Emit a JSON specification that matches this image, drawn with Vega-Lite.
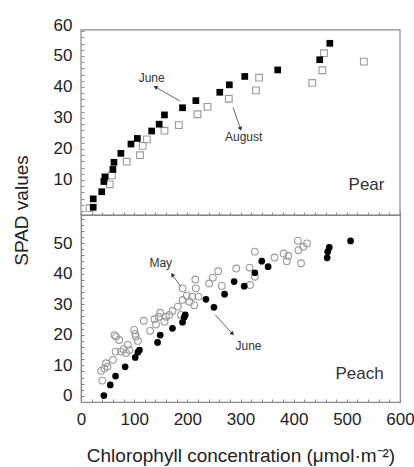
{
  "$schema": "https://vega.github.io/schema/vega-lite/v6.json",
  "padding": {"left": 12, "top": 16, "right": 0, "bottom": 0},
  "spacing": 0,
  "bounds": "flush",
  "config": {
    "font": "Liberation Sans",
    "view": {"stroke": "#888", "strokeWidth": 1.2},
    "axis": {
      "labelFont": "Liberation Sans", "labelFontSize": 17, "labelColor": "#222",
      "titleFont": "Liberation Sans", "titleFontSize": 19, "titleFontWeight": "normal", "titleColor": "#222",
      "domainColor": "#888", "domainWidth": 1.2, "tickColor": "#888", "tickSize": -3, "tickWidth": 1,
      "grid": false, "labelFlush": false, "labelOverlap": false, "labelPadding": 12
    }
  },
  "datasets": {
    "pear": [
      {"month": "June", "chl": 23, "spad": 1.2}, {"month": "June", "chl": 23, "spad": 3.9},
      {"month": "June", "chl": 39, "spad": 6.2}, {"month": "June", "chl": 43, "spad": 9.5},
      {"month": "June", "chl": 45, "spad": 11}, {"month": "June", "chl": 60, "spad": 13.4},
      {"month": "June", "chl": 62, "spad": 15.7}, {"month": "June", "chl": 75, "spad": 18.6},
      {"month": "June", "chl": 94, "spad": 21.6}, {"month": "June", "chl": 106, "spad": 23.4},
      {"month": "June", "chl": 133, "spad": 25.8}, {"month": "June", "chl": 147, "spad": 28},
      {"month": "June", "chl": 157, "spad": 31}, {"month": "June", "chl": 191, "spad": 33.3},
      {"month": "June", "chl": 216, "spad": 35.6}, {"month": "June", "chl": 261, "spad": 38.3},
      {"month": "June", "chl": 279, "spad": 40.7}, {"month": "June", "chl": 308, "spad": 43.4},
      {"month": "June", "chl": 370, "spad": 45.5}, {"month": "June", "chl": 449, "spad": 48.8},
      {"month": "June", "chl": 468, "spad": 54.1},
      {"month": "August", "chl": 16, "spad": 0.9}, {"month": "August", "chl": 54, "spad": 8.6},
      {"month": "August", "chl": 58, "spad": 11.5}, {"month": "August", "chl": 86, "spad": 15.9},
      {"month": "August", "chl": 111, "spad": 18}, {"month": "August", "chl": 116, "spad": 21},
      {"month": "August", "chl": 124, "spad": 23.1}, {"month": "August", "chl": 157, "spad": 25.9},
      {"month": "August", "chl": 184, "spad": 27.7}, {"month": "August", "chl": 219, "spad": 31.2},
      {"month": "August", "chl": 238, "spad": 33.6}, {"month": "August", "chl": 278, "spad": 36.2},
      {"month": "August", "chl": 329, "spad": 38.9}, {"month": "August", "chl": 335, "spad": 43},
      {"month": "August", "chl": 435, "spad": 41.3}, {"month": "August", "chl": 454, "spad": 45.4},
      {"month": "August", "chl": 457, "spad": 50.9}, {"month": "August", "chl": 532, "spad": 48.2}
    ],
    "peach": [
      {"month": "June", "chl": 43, "spad": 0.1}, {"month": "June", "chl": 55, "spad": 3.6},
      {"month": "June", "chl": 65, "spad": 6.5}, {"month": "June", "chl": 83, "spad": 9.5},
      {"month": "June", "chl": 102, "spad": 12.6}, {"month": "June", "chl": 107, "spad": 14.3},
      {"month": "June", "chl": 110, "spad": 15}, {"month": "June", "chl": 144, "spad": 17.5},
      {"month": "June", "chl": 149, "spad": 19.9}, {"month": "June", "chl": 172, "spad": 22.1},
      {"month": "June", "chl": 191, "spad": 24.1}, {"month": "June", "chl": 194, "spad": 25.7},
      {"month": "June", "chl": 196, "spad": 26.5}, {"month": "June", "chl": 235, "spad": 31.6},
      {"month": "June", "chl": 250, "spad": 29}, {"month": "June", "chl": 270, "spad": 33.3},
      {"month": "June", "chl": 288, "spad": 37.4}, {"month": "June", "chl": 307, "spad": 35.9},
      {"month": "June", "chl": 327, "spad": 40.3}, {"month": "June", "chl": 340, "spad": 44.1},
      {"month": "June", "chl": 352, "spad": 42.3}, {"month": "June", "chl": 463, "spad": 45.2},
      {"month": "June", "chl": 464, "spad": 47.2}, {"month": "June", "chl": 467, "spad": 48.6},
      {"month": "June", "chl": 507, "spad": 50.7},
      {"month": "May", "chl": 38, "spad": 8.2}, {"month": "May", "chl": 40, "spad": 5},
      {"month": "May", "chl": 44, "spad": 9}, {"month": "May", "chl": 47, "spad": 10.7},
      {"month": "May", "chl": 50, "spad": 9.6}, {"month": "May", "chl": 60, "spad": 11.8},
      {"month": "May", "chl": 65, "spad": 14.5}, {"month": "May", "chl": 66, "spad": 19.4},
      {"month": "May", "chl": 63, "spad": 19.9}, {"month": "May", "chl": 72, "spad": 18.3},
      {"month": "May", "chl": 75, "spad": 14.5}, {"month": "May", "chl": 80, "spad": 15.3},
      {"month": "May", "chl": 85, "spad": 14}, {"month": "May", "chl": 88, "spad": 16.7},
      {"month": "May", "chl": 91, "spad": 15}, {"month": "May", "chl": 100, "spad": 21.6},
      {"month": "May", "chl": 102, "spad": 20.3}, {"month": "May", "chl": 103, "spad": 19.4},
      {"month": "May", "chl": 107, "spad": 18}, {"month": "May", "chl": 118, "spad": 24.6},
      {"month": "May", "chl": 130, "spad": 21.3}, {"month": "May", "chl": 138, "spad": 25.1},
      {"month": "May", "chl": 146, "spad": 25.9}, {"month": "May", "chl": 149, "spad": 27.2},
      {"month": "May", "chl": 141, "spad": 23.4}, {"month": "May", "chl": 157, "spad": 24.3},
      {"month": "May", "chl": 160, "spad": 25.9}, {"month": "May", "chl": 166, "spad": 26.5},
      {"month": "May", "chl": 172, "spad": 27.8}, {"month": "May", "chl": 182, "spad": 29.2},
      {"month": "May", "chl": 188, "spad": 26.5}, {"month": "May", "chl": 191, "spad": 31.4},
      {"month": "May", "chl": 191, "spad": 35.2}, {"month": "May", "chl": 199, "spad": 32.8},
      {"month": "May", "chl": 204, "spad": 30.8}, {"month": "May", "chl": 209, "spad": 32.5},
      {"month": "May", "chl": 213, "spad": 29.7}, {"month": "May", "chl": 215, "spad": 38.1},
      {"month": "May", "chl": 216, "spad": 35.2}, {"month": "May", "chl": 221, "spad": 32.5},
      {"month": "May", "chl": 241, "spad": 36.8}, {"month": "May", "chl": 248, "spad": 38.7},
      {"month": "May", "chl": 258, "spad": 40.8}, {"month": "May", "chl": 265, "spad": 36},
      {"month": "May", "chl": 292, "spad": 41.7}, {"month": "May", "chl": 317, "spad": 42},
      {"month": "May", "chl": 318, "spad": 36.3}, {"month": "May", "chl": 327, "spad": 39},
      {"month": "May", "chl": 327, "spad": 47.2}, {"month": "May", "chl": 364, "spad": 45.3},
      {"month": "May", "chl": 381, "spad": 46.6}, {"month": "May", "chl": 387, "spad": 44.1},
      {"month": "May", "chl": 390, "spad": 45.8}, {"month": "May", "chl": 408, "spad": 50.8},
      {"month": "May", "chl": 409, "spad": 47.7}, {"month": "May", "chl": 414, "spad": 43.4},
      {"month": "May", "chl": 418, "spad": 48.8}, {"month": "May", "chl": 425, "spad": 49.9}
    ],
    "pearNotes": [
      {"label": "June", "tx": 133, "ty": 43, "x1": 186, "y1": 35.5, "x2": 141, "y2": 39.9},
      {"label": "August", "tx": 306, "ty": 23.8, "x1": 286, "y1": 33.4, "x2": 299.6, "y2": 26.7}
    ],
    "peachNotes": [
      {"label": "May", "tx": 150, "ty": 43.4, "x1": 188, "y1": 35.7, "x2": 172.4, "y2": 39.5},
      {"label": "June", "tx": 315, "ty": 16.3, "x1": 252.6, "y1": 26.5, "x2": 284, "y2": 20.5}
    ],
    "pearName": [{"name": "Pear", "tx": 537, "ty": 8.4}],
    "peachName": [{"name": "Peach", "tx": 524, "ty": 7.2}]
  },
  "vconcat": [
    {
      "width": 319,
      "height": 190,
      "view": {"stroke": null},
      "layer": [
        {
          "data": {"name": "pear"},
          "transform": [{"filter": "datum.month === 'August'"}],
          "mark": {"type": "point", "shape": "square", "filled": false, "stroke": "#9a9a9a", "strokeWidth": 1.1, "size": 45, "opacity": 1},
          "encoding": {
            "x": {"field": "chl", "type": "quantitative", "scale": {"domain": [0, 600], "nice": false, "zero": false},
              "axis": {"title": null, "labels": false, "values": [0,20,40,60,80,100,120,140,160,180,200,220,240,260,280,300,320,340,360,380,400,420,440,460,480,500,520,540,560,580,600]}},
            "y": {"field": "spad", "type": "quantitative", "scale": {"domain": [-1.3, 60], "nice": false, "zero": false},
              "axis": {"title": "SPAD values", "titleY": 185, "titlePadding": 22, "domain": false,
                "values": [0,2,4,6,8,10,12,14,16,18,20,22,24,26,28,30,32,34,36,38,40,42,44,46,48,50,52,54,56,58,60],
                "labelExpr": "datum.value % 10 === 0 && datum.value > 0 ? datum.label : ''",
                "tickColor": {"condition": {"test": "datum.value > 59", "value": "transparent"}, "value": "#888"}}}
          }
        },
        {
          "data": {"name": "pear"},
          "transform": [{"filter": "datum.month === 'June'"}],
          "mark": {"type": "point", "shape": "square", "filled": true, "color": "#000", "size": 45, "opacity": 1},
          "encoding": {
            "x": {"field": "chl", "type": "quantitative", "scale": {"domain": [0, 600], "nice": false, "zero": false},
              "axis": {"title": null, "labels": false, "values": [0,20,40,60,80,100,120,140,160,180,200,220,240,260,280,300,320,340,360,380,400,420,440,460,480,500,520,540,560,580,600]}},
            "y": {"field": "spad", "type": "quantitative", "scale": {"domain": [-1.3, 60], "nice": false, "zero": false},
              "axis": {"title": "SPAD values", "titleY": 185, "titlePadding": 22, "domain": false,
                "values": [0,2,4,6,8,10,12,14,16,18,20,22,24,26,28,30,32,34,36,38,40,42,44,46,48,50,52,54,56,58,60],
                "labelExpr": "datum.value % 10 === 0 && datum.value > 0 ? datum.label : ''",
                "tickColor": {"condition": {"test": "datum.value > 59", "value": "transparent"}, "value": "#888"}}}
          }
        },
        {
          "data": {"values": [{}]},
          "mark": {"type": "rect", "filled": false, "stroke": "#888", "strokeWidth": 1.2, "fill": null},
          "encoding": {
            "x": {"datum": 0, "type": "quantitative", "scale": {"domain": [0, 600], "nice": false, "zero": false},
              "axis": {"title": null, "labels": false, "values": [0,20,40,60,80,100,120,140,160,180,200,220,240,260,280,300,320,340,360,380,400,420,440,460,480,500,520,540,560,580,600]}},
            "x2": {"datum": 600},
            "y": {"datum": -1.3, "type": "quantitative", "scale": {"domain": [-1.3, 60], "nice": false, "zero": false},
              "axis": {"title": "SPAD values", "titleY": 185, "titlePadding": 22, "domain": false,
                "values": [0,2,4,6,8,10,12,14,16,18,20,22,24,26,28,30,32,34,36,38,40,42,44,46,48,50,52,54,56,58,60],
                "labelExpr": "datum.value % 10 === 0 && datum.value > 0 ? datum.label : ''",
                "tickColor": {"condition": {"test": "datum.value > 59", "value": "transparent"}, "value": "#888"}}},
            "y2": {"datum": 58.4}
          }
        },
        {
          "data": {"name": "pearNotes"},
          "mark": {"type": "rule", "color": "#666", "strokeWidth": 1},
          "encoding": {
            "x": {"field": "x1", "type": "quantitative", "scale": {"domain": [0, 600], "nice": false, "zero": false},
              "axis": {"title": null, "labels": false, "values": [0,20,40,60,80,100,120,140,160,180,200,220,240,260,280,300,320,340,360,380,400,420,440,460,480,500,520,540,560,580,600]}},
            "y": {"field": "y1", "type": "quantitative", "scale": {"domain": [-1.3, 60], "nice": false, "zero": false},
              "axis": {"title": "SPAD values", "titleY": 185, "titlePadding": 22, "domain": false,
                "values": [0,2,4,6,8,10,12,14,16,18,20,22,24,26,28,30,32,34,36,38,40,42,44,46,48,50,52,54,56,58,60],
                "labelExpr": "datum.value % 10 === 0 && datum.value > 0 ? datum.label : ''",
                "tickColor": {"condition": {"test": "datum.value > 59", "value": "transparent"}, "value": "#888"}}},
            "x2": {"field": "x2"},
            "y2": {"field": "y2"}
          }
        },
        {
          "data": {"name": "pearNotes"},
          "mark": {"type": "point", "shape": "triangle", "filled": true, "color": "#333", "size": 22, "opacity": 1},
          "encoding": {
            "x": {"field": "x2", "type": "quantitative", "scale": {"domain": [0, 600], "nice": false, "zero": false},
              "axis": {"title": null, "labels": false, "values": [0,20,40,60,80,100,120,140,160,180,200,220,240,260,280,300,320,340,360,380,400,420,440,460,480,500,520,540,560,580,600]}},
            "y": {"field": "y2", "type": "quantitative", "scale": {"domain": [-1.3, 60], "nice": false, "zero": false},
              "axis": {"title": "SPAD values", "titleY": 185, "titlePadding": 22, "domain": false,
                "values": [0,2,4,6,8,10,12,14,16,18,20,22,24,26,28,30,32,34,36,38,40,42,44,46,48,50,52,54,56,58,60],
                "labelExpr": "datum.value % 10 === 0 && datum.value > 0 ? datum.label : ''",
                "tickColor": {"condition": {"test": "datum.value > 59", "value": "transparent"}, "value": "#888"}}},
            "angle": {"condition": {"test": "datum.label === 'June'", "value": 300}, "value": 161}
          }
        },
        {
          "data": {"name": "pearNotes"},
          "mark": {"type": "text", "font": "Liberation Sans", "fontSize": 12, "color": "#333"},
          "encoding": {
            "x": {"field": "tx", "type": "quantitative", "scale": {"domain": [0, 600], "nice": false, "zero": false},
              "axis": {"title": null, "labels": false, "values": [0,20,40,60,80,100,120,140,160,180,200,220,240,260,280,300,320,340,360,380,400,420,440,460,480,500,520,540,560,580,600]}},
            "y": {"field": "ty", "type": "quantitative", "scale": {"domain": [-1.3, 60], "nice": false, "zero": false},
              "axis": {"title": "SPAD values", "titleY": 185, "titlePadding": 22, "domain": false,
                "values": [0,2,4,6,8,10,12,14,16,18,20,22,24,26,28,30,32,34,36,38,40,42,44,46,48,50,52,54,56,58,60],
                "labelExpr": "datum.value % 10 === 0 && datum.value > 0 ? datum.label : ''",
                "tickColor": {"condition": {"test": "datum.value > 59", "value": "transparent"}, "value": "#888"}}},
            "text": {"field": "label"}
          }
        },
        {
          "data": {"name": "pearName"},
          "mark": {"type": "text", "font": "Liberation Sans", "fontSize": 17, "color": "#333"},
          "encoding": {
            "x": {"field": "tx", "type": "quantitative", "scale": {"domain": [0, 600], "nice": false, "zero": false},
              "axis": {"title": null, "labels": false, "values": [0,20,40,60,80,100,120,140,160,180,200,220,240,260,280,300,320,340,360,380,400,420,440,460,480,500,520,540,560,580,600]}},
            "y": {"field": "ty", "type": "quantitative", "scale": {"domain": [-1.3, 60], "nice": false, "zero": false},
              "axis": {"title": "SPAD values", "titleY": 185, "titlePadding": 22, "domain": false,
                "values": [0,2,4,6,8,10,12,14,16,18,20,22,24,26,28,30,32,34,36,38,40,42,44,46,48,50,52,54,56,58,60],
                "labelExpr": "datum.value % 10 === 0 && datum.value > 0 ? datum.label : ''",
                "tickColor": {"condition": {"test": "datum.value > 59", "value": "transparent"}, "value": "#888"}}},
            "text": {"field": "name"}
          }
        }
      ]
    },
    {
      "width": 319,
      "height": 187,
      "layer": [
        {
          "data": {"name": "peach"},
          "transform": [{"filter": "datum.month === 'May'"}],
          "mark": {"type": "point", "shape": "circle", "filled": false, "stroke": "#9a9a9a", "strokeWidth": 1.1, "size": 45, "opacity": 1},
          "encoding": {
            "x": {"field": "chl", "type": "quantitative", "scale": {"domain": [0, 600], "nice": false, "zero": false},
              "axis": {"title": "Chlorophyll concentration (μmol·m⁻²)", "titlePadding": 19,
                "values": [0,20,40,60,80,100,120,140,160,180,200,220,240,260,280,300,320,340,360,380,400,420,440,460,480,500,520,540,560,580,600],
                "labelExpr": "datum.value % 100 === 0 ? datum.label : ''"}},
            "y": {"field": "spad", "type": "quantitative", "scale": {"domain": [-2, 59.2], "nice": false, "zero": false},
              "axis": {"title": null,
                "values": [0,2,4,6,8,10,12,14,16,18,20,22,24,26,28,30,32,34,36,38,40,42,44,46,48,50,52,54,56,58],
                "labelExpr": "datum.value % 10 === 0 ? datum.label : ''"}}
          }
        },
        {
          "data": {"name": "peach"},
          "transform": [{"filter": "datum.month === 'June'"}],
          "mark": {"type": "point", "shape": "circle", "filled": true, "color": "#000", "size": 45, "opacity": 1},
          "encoding": {
            "x": {"field": "chl", "type": "quantitative", "scale": {"domain": [0, 600], "nice": false, "zero": false},
              "axis": {"title": "Chlorophyll concentration (μmol·m⁻²)", "titlePadding": 19,
                "values": [0,20,40,60,80,100,120,140,160,180,200,220,240,260,280,300,320,340,360,380,400,420,440,460,480,500,520,540,560,580,600],
                "labelExpr": "datum.value % 100 === 0 ? datum.label : ''"}},
            "y": {"field": "spad", "type": "quantitative", "scale": {"domain": [-2, 59.2], "nice": false, "zero": false},
              "axis": {"title": null,
                "values": [0,2,4,6,8,10,12,14,16,18,20,22,24,26,28,30,32,34,36,38,40,42,44,46,48,50,52,54,56,58],
                "labelExpr": "datum.value % 10 === 0 ? datum.label : ''"}}
          }
        },
        {
          "data": {"name": "peachNotes"},
          "mark": {"type": "rule", "color": "#666", "strokeWidth": 1},
          "encoding": {
            "x": {"field": "x1", "type": "quantitative", "scale": {"domain": [0, 600], "nice": false, "zero": false},
              "axis": {"title": "Chlorophyll concentration (μmol·m⁻²)", "titlePadding": 19,
                "values": [0,20,40,60,80,100,120,140,160,180,200,220,240,260,280,300,320,340,360,380,400,420,440,460,480,500,520,540,560,580,600],
                "labelExpr": "datum.value % 100 === 0 ? datum.label : ''"}},
            "y": {"field": "y1", "type": "quantitative", "scale": {"domain": [-2, 59.2], "nice": false, "zero": false},
              "axis": {"title": null,
                "values": [0,2,4,6,8,10,12,14,16,18,20,22,24,26,28,30,32,34,36,38,40,42,44,46,48,50,52,54,56,58],
                "labelExpr": "datum.value % 10 === 0 ? datum.label : ''"}},
            "x2": {"field": "x2"},
            "y2": {"field": "y2"}
          }
        },
        {
          "data": {"name": "peachNotes"},
          "mark": {"type": "point", "shape": "triangle", "filled": true, "color": "#333", "size": 22, "opacity": 1},
          "encoding": {
            "x": {"field": "x2", "type": "quantitative", "scale": {"domain": [0, 600], "nice": false, "zero": false},
              "axis": {"title": "Chlorophyll concentration (μmol·m⁻²)", "titlePadding": 19,
                "values": [0,20,40,60,80,100,120,140,160,180,200,220,240,260,280,300,320,340,360,380,400,420,440,460,480,500,520,540,560,580,600],
                "labelExpr": "datum.value % 100 === 0 ? datum.label : ''"}},
            "y": {"field": "y2", "type": "quantitative", "scale": {"domain": [-2, 59.2], "nice": false, "zero": false},
              "axis": {"title": null,
                "values": [0,2,4,6,8,10,12,14,16,18,20,22,24,26,28,30,32,34,36,38,40,42,44,46,48,50,52,54,56,58],
                "labelExpr": "datum.value % 10 === 0 ? datum.label : ''"}},
            "angle": {"condition": {"test": "datum.label === 'May'", "value": 325}, "value": 138}
          }
        },
        {
          "data": {"name": "peachNotes"},
          "mark": {"type": "text", "font": "Liberation Sans", "fontSize": 12, "color": "#333"},
          "encoding": {
            "x": {"field": "tx", "type": "quantitative", "scale": {"domain": [0, 600], "nice": false, "zero": false},
              "axis": {"title": "Chlorophyll concentration (μmol·m⁻²)", "titlePadding": 19,
                "values": [0,20,40,60,80,100,120,140,160,180,200,220,240,260,280,300,320,340,360,380,400,420,440,460,480,500,520,540,560,580,600],
                "labelExpr": "datum.value % 100 === 0 ? datum.label : ''"}},
            "y": {"field": "ty", "type": "quantitative", "scale": {"domain": [-2, 59.2], "nice": false, "zero": false},
              "axis": {"title": null,
                "values": [0,2,4,6,8,10,12,14,16,18,20,22,24,26,28,30,32,34,36,38,40,42,44,46,48,50,52,54,56,58],
                "labelExpr": "datum.value % 10 === 0 ? datum.label : ''"}},
            "text": {"field": "label"}
          }
        },
        {
          "data": {"name": "peachName"},
          "mark": {"type": "text", "font": "Liberation Sans", "fontSize": 17, "color": "#333"},
          "encoding": {
            "x": {"field": "tx", "type": "quantitative", "scale": {"domain": [0, 600], "nice": false, "zero": false},
              "axis": {"title": "Chlorophyll concentration (μmol·m⁻²)", "titlePadding": 19,
                "values": [0,20,40,60,80,100,120,140,160,180,200,220,240,260,280,300,320,340,360,380,400,420,440,460,480,500,520,540,560,580,600],
                "labelExpr": "datum.value % 100 === 0 ? datum.label : ''"}},
            "y": {"field": "ty", "type": "quantitative", "scale": {"domain": [-2, 59.2], "nice": false, "zero": false},
              "axis": {"title": null,
                "values": [0,2,4,6,8,10,12,14,16,18,20,22,24,26,28,30,32,34,36,38,40,42,44,46,48,50,52,54,56,58],
                "labelExpr": "datum.value % 10 === 0 ? datum.label : ''"}},
            "text": {"field": "name"}
          }
        }
      ]
    }
  ]
}
